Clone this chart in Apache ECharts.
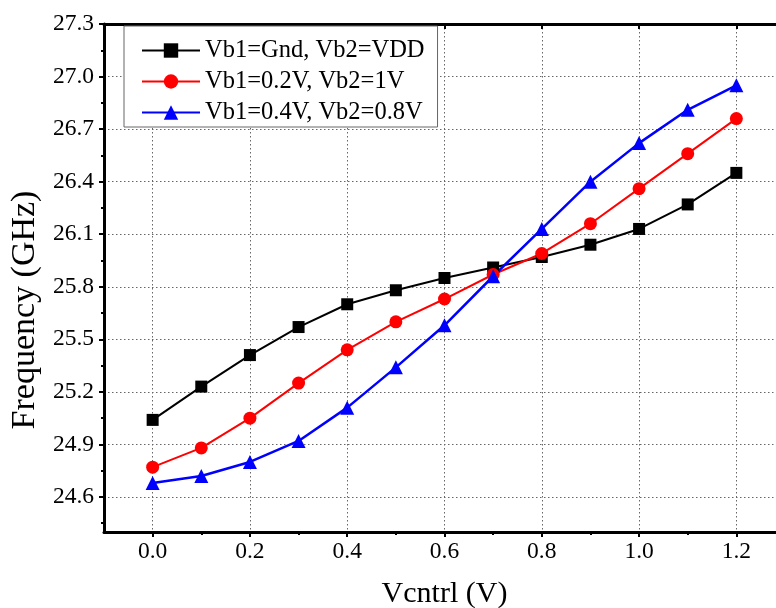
<!DOCTYPE html>
<html>
<head>
<meta charset="utf-8">
<script src="https://cdn.jsdelivr.net/npm/echarts@6/dist/echarts.min.js"></script>
<style>
  html, body { margin: 0; padding: 0; background: #fff; }
  #main { width: 776px; height: 608px; }
</style>
</head>
<body>
<div id="main"></div>
<script>
// data
var vctrl = [0.0, 0.1, 0.2, 0.3, 0.4, 0.5, 0.6, 0.7, 0.8, 0.9, 1.0, 1.1, 1.2];
var freqGnd = [25.04, 25.23, 25.41, 25.57, 25.70, 25.78, 25.85, 25.91, 25.97, 26.04, 26.13, 26.27, 26.45];
var freq02 = [24.77, 24.88, 25.05, 25.25, 25.44, 25.60, 25.73, 25.87, 25.99, 26.16, 26.36, 26.56, 26.76];
var freq04 = [24.68, 24.72, 24.80, 24.92, 25.11, 25.34, 25.58, 25.86, 26.13, 26.40, 26.62, 26.81, 26.95];
var seriesNames = ['Vb1=Gnd, Vb2=VDD', 'Vb1=0.2V, Vb2=1V', 'Vb1=0.4V, Vb2=0.8V'];

// tick positions
var xTicks = [0.0, 0.2, 0.4, 0.6, 0.8, 1.0, 1.2];
var xMinorTicks = [0.1, 0.3, 0.5, 0.7, 0.9, 1.1];
var yTicks = [24.6, 24.9, 25.2, 25.5, 25.8, 26.1, 26.4, 26.7, 27.0, 27.3];
var yMinorTicks = [24.45, 24.75, 25.05, 25.35, 25.65, 25.95, 26.25, 26.55, 26.85, 27.15];

var font = 'Liberation Serif';

function pairs(ys) {
    var out = [];
    for (var i = 0; i < vctrl.length; i++) {
        out.push([vctrl[i], ys[i]]);
    }
    return out;
}

var myChart = echarts.init(document.getElementById('main'));

var gridLine = {
    show: true,
    lineStyle: { color: '#666', type: [1.5, 2.5], width: 1 }
};

var option = {
    animation: false,
    backgroundColor: '#fff',
    // plot runs past the right edge of the picture (cropped frame)
    grid: { left: 104, width: 681, top: 24, height: 508, outerBoundsMode: 'none', containLabel: false },
    legend: {
        orient: 'vertical',
        left: 124,
        top: 26,
        data: seriesNames,
        backgroundColor: '#fff',
        borderColor: '#666',
        borderWidth: 1,
        padding: [12, 13, 2, 17],
        itemWidth: 58,
        itemHeight: 18,
        itemGap: 6,
        textStyle: { fontFamily: font, fontSize: 24.5, color: '#000', lineHeight: 24 }
    },
    xAxis: [{
        type: 'value',
        min: -0.1,
        max: 1.3,
        position: 'bottom',
        name: 'Vcntrl (V)',
        nameLocation: 'middle',
        nameGap: 47,
        nameTextStyle: { fontFamily: font, fontSize: 30, color: '#000' },
        axisLine: { show: true, onZero: false, lineStyle: { color: '#000', width: 3 } },
        axisTick: { show: true, customValues: xTicks, length: 5, lineStyle: { color: '#000', width: 2 } },
        axisLabel: {
            customValues: xTicks,
            margin: 8,
            fontFamily: font, fontSize: 23.5, color: '#000',
            formatter: function (v) { return v.toFixed(1); }
        },
        splitLine: gridLine
    }, {
        // minor ticks on the bottom
        type: 'value',
        min: -0.1,
        max: 1.3,
        position: 'bottom',
        axisLine: { show: false, onZero: false },
        axisTick: { show: true, customValues: xMinorTicks, length: 3, lineStyle: { color: '#000', width: 2 } },
        axisLabel: { show: false },
        splitLine: { show: false }
    }, {
        // top frame
        type: 'value',
        min: -0.1,
        max: 1.3,
        position: 'top',
        axisLine: { show: true, onZero: false, lineStyle: { color: '#000', width: 3 } },
        axisTick: { show: true, inside: true, customValues: xTicks, length: 5, lineStyle: { color: '#000', width: 2 } },
        axisLabel: { show: false },
        splitLine: { show: false }
    }],
    yAxis: [{
        type: 'value',
        min: 24.4,
        max: 27.3,
        position: 'left',
        name: 'Frequency (GHz)',
        nameLocation: 'middle',
        nameGap: 62,
        nameTextStyle: { fontFamily: font, fontSize: 34, color: '#000', padding: [0, 64, 0, 0] },
        axisLine: { show: true, onZero: false, lineStyle: { color: '#000', width: 3 } },
        axisTick: { show: true, customValues: yTicks, length: 5, lineStyle: { color: '#000', width: 2 } },
        axisLabel: {
            customValues: yTicks,
            margin: 10,
            fontFamily: font, fontSize: 23.5, color: '#000',
            formatter: function (v) { return v.toFixed(1); }
        },
        splitLine: gridLine
    }, {
        // minor ticks on the left
        type: 'value',
        min: 24.4,
        max: 27.3,
        position: 'left',
        axisLine: { show: false, onZero: false },
        axisTick: { show: true, customValues: yMinorTicks, length: 3, lineStyle: { color: '#000', width: 2 } },
        axisLabel: { show: false },
        splitLine: { show: false }
    }],
    series: [{
        name: seriesNames[0],
        type: 'line',
        data: pairs(freqGnd),
        symbol: 'rect',
        symbolSize: 12,
        color: '#000',
        lineStyle: { width: 2 },
        itemStyle: { color: '#000' }
    }, {
        name: seriesNames[1],
        type: 'line',
        data: pairs(freq02),
        symbol: 'circle',
        symbolSize: 13,
        color: '#ff0000',
        lineStyle: { width: 2 },
        itemStyle: { color: '#ff0000' }
    }, {
        name: seriesNames[2],
        type: 'line',
        data: pairs(freq04),
        symbol: 'triangle',
        symbolSize: 14,
        color: '#0000ff',
        lineStyle: { width: 2.5 },
        itemStyle: { color: '#0000ff' }
    }]
};

myChart.setOption(option);
</script>
</body>
</html>
